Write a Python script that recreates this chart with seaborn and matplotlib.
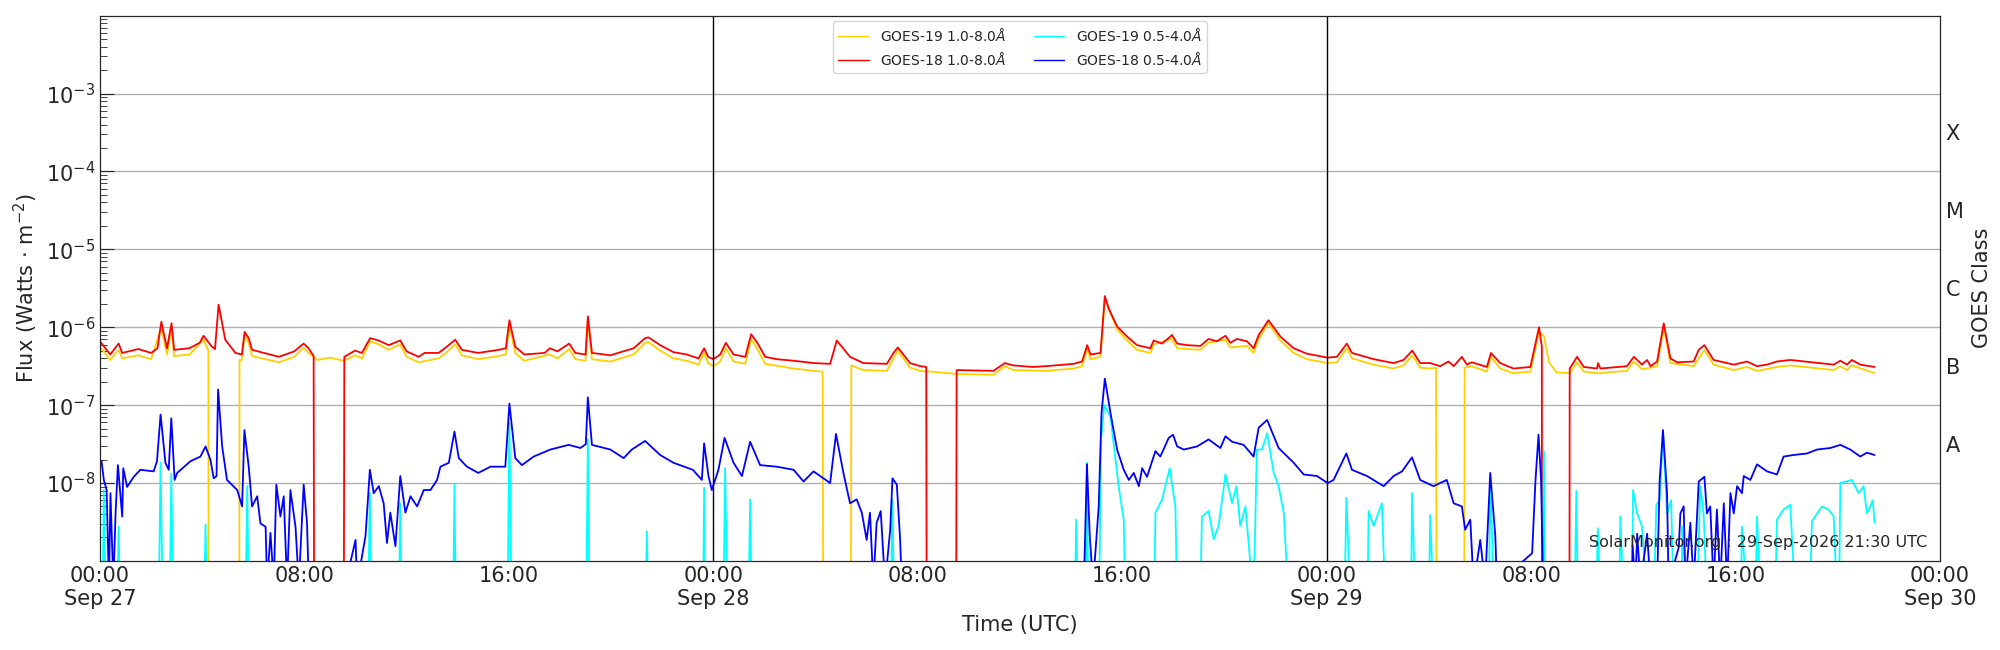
import matplotlib
matplotlib.use("Agg")
import matplotlib.pyplot as plt
import matplotlib.ticker as mticker
import numpy as np
import pandas as pd
import seaborn as sns

# times in hours since 2026-09-27 00:00 UTC, flux as log10(W m^-2)
g18_long = [
    (0, -6.18), (0.4, -6.35), (0.73, -6.21), (0.87, -6.33), (1.5, -6.28), (2.0, -6.33), (2.25, -6.27),
    (2.4, -5.93), (2.62, -6.27), (2.8, -5.95), (2.9, -6.29), (3.5, -6.27), (3.9, -6.2), (4.05, -6.11),
    (4.38, -6.25), (4.5, -6.28), (4.64, -5.71), (4.9, -6.16), (5.3, -6.33), (5.55, -6.35), (5.66, -6.06),
    (5.82, -6.14), (5.95, -6.29), (7.0, -6.38), (7.6, -6.31), (7.97, -6.21), (8.16, -6.27), (8.36, -6.37),
    (8.38, -10), (9.54, -10), (9.56, -6.38), (9.98, -6.3), (10.25, -6.33), (10.57, -6.14), (10.9, -6.17),
    (11.3, -6.23), (11.75, -6.17), (12.0, -6.31), (12.47, -6.38), (12.7, -6.33), (13.25, -6.33),
    (13.57, -6.25), (13.9, -6.16), (14.16, -6.29), (14.8, -6.33), (15.6, -6.29), (15.88, -6.27),
    (16.02, -5.91), (16.25, -6.25), (16.6, -6.35), (17.4, -6.33), (17.6, -6.27), (17.9, -6.31),
    (18.36, -6.21), (18.6, -6.33), (18.8, -6.34), (19.0, -6.35), (19.09, -5.86), (19.25, -6.33),
    (19.97, -6.36), (20.88, -6.27), (21.33, -6.14), (21.46, -6.13), (21.92, -6.23), (22.44, -6.32),
    (22.96, -6.35), (23.42, -6.4), (23.64, -6.27), (23.8, -6.38), (24.0, -6.41), (24.27, -6.35),
    (24.49, -6.2), (24.79, -6.35), (25.25, -6.38), (25.48, -6.09), (25.74, -6.21), (26.03, -6.38),
    (26.48, -6.41), (27.14, -6.43), (27.92, -6.46), (28.57, -6.47), (28.83, -6.17), (29.35, -6.38),
    (29.87, -6.46), (30.79, -6.47), (31.05, -6.33), (31.22, -6.26), (31.7, -6.46), (32.1, -6.5),
    (32.33, -6.51), (32.35, -10), (33.5, -10), (33.52, -6.55), (34.96, -6.56), (35.41, -6.46),
    (35.74, -6.49), (36.5, -6.51), (37.0, -6.5), (38.1, -6.47), (38.43, -6.44), (38.63, -6.23),
    (38.76, -6.35), (39.15, -6.33), (39.32, -5.6), (39.47, -5.76), (39.8, -5.99), (40.19, -6.12),
    (40.58, -6.23), (41.1, -6.27), (41.23, -6.17), (41.56, -6.21), (41.95, -6.1), (42.15, -6.21),
    (42.54, -6.23), (43.06, -6.24), (43.38, -6.15), (43.7, -6.18), (44.04, -6.11), (44.23, -6.2),
    (44.49, -6.15), (44.88, -6.18), (45.14, -6.27), (45.34, -6.1), (45.72, -5.91), (46.19, -6.12),
    (46.71, -6.27), (47.23, -6.34), (48.04, -6.39), (48.4, -6.38), (48.79, -6.21), (48.99, -6.33),
    (49.84, -6.41), (50.62, -6.46), (51.01, -6.42), (51.35, -6.3), (51.66, -6.46), (52.05, -6.46),
    (52.44, -6.5), (52.77, -6.44), (52.97, -6.5), (53.29, -6.38), (53.49, -6.48), (53.68, -6.45),
    (54.27, -6.51), (54.43, -6.33), (54.79, -6.46), (55.31, -6.53), (55.97, -6.51), (56.31, -6.0),
    (56.42, -6.25), (56.43, -10), (57.5, -10), (57.51, -6.53), (57.8, -6.38), (58.06, -6.51),
    (58.58, -6.53), (58.62, -6.46), (58.71, -6.53), (59.75, -6.5), (60.02, -6.38), (60.34, -6.48),
    (60.54, -6.42), (60.67, -6.5), (60.93, -6.44), (61.19, -5.95), (61.45, -6.4), (61.71, -6.45),
    (62.36, -6.44), (62.56, -6.29), (62.78, -6.23), (63.14, -6.42), (63.93, -6.48), (64.45, -6.44),
    (64.84, -6.5), (65.23, -6.48), (65.62, -6.44), (66.14, -6.42), (67.84, -6.48), (68.1, -6.43),
    (68.36, -6.48), (68.55, -6.42), (68.88, -6.48), (69.44, -6.51),
]

g19_long = [
    (0, -6.25), (0.4, -6.42), (0.73, -6.29), (0.87, -6.4), (1.5, -6.36), (2.0, -6.41), (2.4, -6.0),
    (2.62, -6.35), (2.8, -6.02), (2.9, -6.37), (3.5, -6.35), (4.05, -6.16), (4.24, -6.3), (4.25, -10),
    (5.45, -10), (5.46, -6.42), (5.55, -6.42), (5.66, -6.1), (5.82, -6.2), (5.95, -6.37), (7.0, -6.45),
    (7.6, -6.38), (7.97, -6.26), (8.16, -6.33), (8.5, -6.42), (9.0, -6.39), (9.56, -6.43), (9.98, -6.36),
    (10.25, -6.4), (10.57, -6.18), (10.9, -6.22), (11.3, -6.29), (11.75, -6.22), (12.0, -6.38),
    (12.47, -6.45), (13.25, -6.4), (13.57, -6.32), (13.9, -6.22), (14.16, -6.36), (14.8, -6.41),
    (15.6, -6.37), (15.88, -6.35), (16.02, -5.97), (16.25, -6.33), (16.6, -6.43), (17.6, -6.35),
    (17.9, -6.4), (18.36, -6.28), (18.6, -6.41), (19.0, -6.43), (19.09, -5.92), (19.25, -6.41),
    (19.97, -6.44), (20.88, -6.35), (21.33, -6.2), (21.46, -6.19), (21.92, -6.3), (22.44, -6.4),
    (22.96, -6.43), (23.42, -6.48), (23.64, -6.33), (23.8, -6.46), (24.0, -6.5), (24.27, -6.44),
    (24.49, -6.27), (24.79, -6.44), (25.25, -6.47), (25.48, -6.15), (25.74, -6.29), (26.03, -6.47),
    (27.14, -6.53), (27.92, -6.56), (28.28, -6.57), (28.3, -10), (29.38, -10), (29.4, -6.49),
    (29.87, -6.55), (30.79, -6.56), (31.05, -6.4), (31.22, -6.3), (31.7, -6.52), (32.1, -6.56),
    (32.9, -6.58), (33.52, -6.6), (34.96, -6.61), (35.41, -6.5), (35.74, -6.55), (37.0, -6.56),
    (38.1, -6.53), (38.43, -6.5), (38.63, -6.28), (38.76, -6.41), (39.15, -6.38), (39.32, -5.63),
    (39.8, -6.03), (40.19, -6.17), (40.58, -6.29), (41.1, -6.33), (41.23, -6.22), (41.95, -6.15),
    (42.15, -6.27), (43.06, -6.29), (43.38, -6.2), (44.04, -6.16), (44.23, -6.26), (44.88, -6.24),
    (45.14, -6.33), (45.34, -6.15), (45.72, -5.95), (46.19, -6.17), (46.71, -6.33), (47.23, -6.41),
    (48.04, -6.46), (48.4, -6.45), (48.79, -6.27), (48.99, -6.4), (49.84, -6.48), (50.62, -6.53),
    (51.01, -6.49), (51.35, -6.36), (51.66, -6.52), (52.05, -6.53), (52.28, -6.52), (52.3, -10),
    (53.38, -10), (53.4, -6.52), (53.68, -6.5), (54.27, -6.57), (54.43, -6.38), (54.79, -6.53),
    (55.31, -6.59), (55.97, -6.57), (56.31, -6.06), (56.5, -6.11), (56.7, -6.45), (57.0, -6.58),
    (57.5, -6.59), (57.8, -6.45), (58.06, -6.57), (58.58, -6.59), (59.75, -6.56), (60.02, -6.44),
    (60.34, -6.54), (60.93, -6.5), (61.19, -6.0), (61.45, -6.46), (62.36, -6.5), (62.78, -6.29),
    (63.14, -6.48), (63.93, -6.55), (64.45, -6.51), (64.84, -6.56), (65.62, -6.51), (66.14, -6.49),
    (67.84, -6.55), (68.1, -6.5), (68.36, -6.55), (68.55, -6.49), (69.44, -6.59),
]

g18_short = [
    (0.06, -7.72), (0.15, -7.96), (0.26, -8.09), (0.35, -9.3), (0.41, -8.13), (0.52, -9.3), (0.61, -8.38),
    (0.7, -7.77), (0.87, -8.43), (0.91, -7.81), (1.06, -8.05), (1.32, -7.92), (1.58, -7.83), (2.1, -7.85),
    (2.23, -7.72), (2.37, -7.12), (2.56, -7.74), (2.69, -7.83), (2.79, -7.17), (2.92, -7.96), (3.02, -7.87),
    (3.54, -7.72), (3.93, -7.66), (4.13, -7.53), (4.32, -7.7), (4.45, -7.94), (4.56, -7.91), (4.62, -6.8),
    (4.78, -7.53), (4.97, -7.96), (5.37, -8.09), (5.56, -8.3), (5.65, -7.32), (5.82, -7.79), (5.95, -8.3),
    (6.15, -8.17), (6.28, -8.52), (6.48, -8.56), (6.54, -9.3), (6.67, -8.64), (6.8, -9.3), (6.9, -8.02),
    (7.06, -8.43), (7.19, -8.17), (7.32, -9.3), (7.45, -8.09), (7.65, -8.56), (7.78, -9.3), (7.97, -8.02),
    (8.1, -8.51), (8.17, -9.3), (9.6, -9.3), (10.0, -8.73), (10.06, -9.3), (10.39, -8.68), (10.56, -7.83),
    (10.71, -8.13), (10.91, -8.04), (11.1, -8.26), (11.23, -8.77), (11.36, -8.38), (11.56, -8.81),
    (11.75, -7.91), (11.95, -8.38), (12.15, -8.17), (12.41, -8.3), (12.67, -8.09), (12.93, -8.09),
    (13.19, -7.96), (13.32, -7.79), (13.65, -7.74), (13.87, -7.34), (14.04, -7.68), (14.36, -7.79),
    (14.8, -7.87), (15.28, -7.79), (15.86, -7.79), (16.02, -6.98), (16.25, -7.68), (16.51, -7.77),
    (16.97, -7.66), (17.62, -7.57), (18.34, -7.51), (18.8, -7.55), (19.01, -7.5), (19.09, -6.9),
    (19.25, -7.51), (19.97, -7.57), (20.49, -7.68), (20.81, -7.57), (21.33, -7.46), (21.92, -7.64),
    (22.44, -7.74), (23.2, -7.83), (23.55, -7.96), (23.64, -7.49), (23.81, -7.91), (23.94, -8.09),
    (24.2, -7.83), (24.44, -7.42), (24.79, -7.74), (25.12, -7.91), (25.44, -7.47), (25.83, -7.77),
    (26.48, -7.79), (27.14, -7.83), (27.53, -7.98), (27.92, -7.85), (28.57, -8.0), (28.8, -7.37),
    (29.09, -7.87), (29.35, -8.26), (29.61, -8.21), (29.81, -8.38), (30.0, -8.73), (30.13, -8.38),
    (30.26, -9.3), (30.39, -8.51), (30.55, -8.36), (30.72, -9.3), (30.92, -8.6), (31.01, -7.94),
    (31.18, -8.02), (31.31, -8.73), (31.37, -9.3), (38.5, -9.3), (38.62, -7.76), (38.73, -8.68),
    (38.86, -9.3), (39.08, -8.3), (39.19, -7.1), (39.32, -6.66), (39.54, -7.1), (39.8, -7.57),
    (40.06, -7.83), (40.26, -7.96), (40.45, -7.87), (40.65, -8.04), (40.78, -7.81), (40.97, -7.92),
    (41.3, -7.59), (41.49, -7.66), (41.82, -7.42), (41.99, -7.38), (42.15, -7.53), (42.41, -7.57),
    (42.93, -7.53), (43.38, -7.44), (43.84, -7.55), (44.04, -7.4), (44.3, -7.47), (44.75, -7.51),
    (45.14, -7.66), (45.34, -7.29), (45.67, -7.19), (46.12, -7.55), (46.71, -7.74), (47.1, -7.89),
    (47.62, -7.91), (48.04, -8.0), (48.27, -7.96), (48.77, -7.62), (48.99, -7.83), (49.58, -7.91),
    (50.23, -8.04), (50.62, -7.91), (50.95, -7.85), (51.34, -7.67), (51.66, -7.96), (52.18, -8.04),
    (52.7, -7.96), (52.97, -8.26), (53.29, -8.3), (53.42, -8.6), (53.62, -8.47), (53.75, -9.3),
    (54.01, -8.73), (54.2, -9.3), (54.4, -7.87), (54.6, -8.68), (54.66, -9.3), (56.04, -8.9),
    (56.17, -7.97), (56.29, -7.38), (56.39, -7.96), (56.47, -9.3), (59.95, -9.3), (59.97, -8.8),
    (60.08, -9.3), (60.15, -8.65), (60.28, -9.3), (60.54, -8.65), (60.67, -9.3), (60.93, -9.3),
    (61.03, -7.97), (61.16, -7.32), (61.32, -8.13), (61.38, -9.3), (61.78, -8.82), (61.84, -8.39),
    (61.97, -8.3), (62.04, -9.3), (62.23, -8.51), (62.36, -9.3), (62.56, -7.98), (62.78, -7.92),
    (62.88, -8.39), (63.01, -8.3), (63.14, -9.3), (63.27, -8.34), (63.4, -9.3), (63.54, -8.26),
    (63.67, -9.3), (63.8, -8.13), (63.93, -8.39), (64.06, -8.04), (64.25, -8.13), (64.32, -7.91),
    (64.58, -7.96), (64.84, -7.76), (65.23, -7.85), (65.62, -7.89), (65.88, -7.66), (66.27, -7.64),
    (66.8, -7.62), (67.19, -7.57), (67.71, -7.55), (68.1, -7.51), (68.49, -7.57), (68.88, -7.66),
    (69.14, -7.61), (69.44, -7.64),
]

g19_short = [
    (0, -9.5), (0.1, -9.5), (0.15, -8.09), (0.22, -9.5), (0.68, -9.5), (0.73, -8.56), (0.78, -9.5),
    (2.3, -9.5), (2.37, -7.74), (2.45, -9.5), (2.73, -9.5), (2.79, -7.88), (2.86, -9.5), (4.08, -9.5),
    (4.13, -8.53), (4.18, -9.5), (5.7, -9.5), (5.76, -8.04), (5.82, -9.5), (10.5, -9.5), (10.56, -8.13),
    (10.62, -9.5), (11.7, -9.5), (11.75, -8.26), (11.8, -9.5), (13.82, -9.5), (13.87, -8.02),
    (13.92, -9.5), (15.95, -9.5), (16.02, -7.23), (16.1, -9.5), (19.03, -9.5), (19.09, -7.44),
    (19.15, -9.5), (21.35, -9.5), (21.4, -8.62), (21.45, -9.5), (23.6, -9.5), (23.64, -8.06),
    (23.68, -9.5), (24.4, -9.5), (24.46, -7.81), (24.55, -9.5), (25.38, -9.5), (25.44, -8.21),
    (25.5, -9.5), (30.95, -9.5), (31.01, -8.21), (31.07, -9.5), (38.15, -9.5), (38.2, -8.47),
    (38.25, -9.5), (38.57, -9.5), (38.62, -7.74), (38.67, -9.5), (39.1, -9.5), (39.17, -7.44),
    (39.3, -7.0), (39.54, -7.15), (39.86, -8.04), (40.06, -8.47), (40.12, -9.5), (41.25, -9.5),
    (41.3, -8.38), (41.56, -8.21), (41.86, -7.81), (42.08, -8.3), (42.15, -9.5), (43.05, -9.5),
    (43.12, -8.43), (43.38, -8.36), (43.58, -8.72), (43.77, -8.55), (44.04, -7.89), (44.3, -8.26),
    (44.47, -8.04), (44.62, -8.55), (44.82, -8.3), (45.14, -9.5), (45.27, -7.57), (45.47, -7.57),
    (45.67, -7.36), (45.93, -7.87), (46.12, -8.04), (46.32, -8.38), (46.51, -9.5), (48.7, -9.5),
    (48.77, -8.19), (48.93, -9.5), (49.6, -9.5), (49.64, -8.36), (49.84, -8.55), (50.16, -8.26),
    (50.3, -9.5), (51.3, -9.5), (51.34, -8.13), (51.47, -9.5), (52.0, -9.5), (52.05, -8.41),
    (52.18, -9.5), (54.35, -9.5), (54.4, -7.96), (54.56, -9.5), (56.45, -9.5), (56.5, -7.59),
    (56.56, -9.5), (57.7, -9.5), (57.77, -8.1), (57.83, -9.5), (58.55, -9.5), (58.61, -8.58),
    (58.71, -9.5), (59.45, -9.5), (59.49, -8.43), (59.62, -9.5), (59.95, -9.5), (59.99, -8.09),
    (60.15, -8.39), (60.34, -8.56), (60.54, -9.5), (60.8, -9.5), (60.9, -8.28), (61.03, -8.22),
    (61.16, -7.36), (61.32, -8.39), (61.48, -8.22), (61.58, -9.5), (61.9, -9.5), (61.91, -8.56),
    (62.1, -9.5), (62.5, -9.5), (62.62, -8.04), (62.75, -8.39), (62.88, -9.5), (64.2, -9.5),
    (64.25, -8.56), (64.45, -9.5), (64.78, -9.5), (64.84, -8.43), (64.97, -9.5), (65.55, -9.5),
    (65.62, -8.47), (65.88, -8.34), (66.14, -8.28), (66.34, -9.5), (66.9, -9.5), (66.99, -8.49),
    (67.38, -8.3), (67.64, -8.34), (67.84, -8.43), (67.97, -9.5), (68.05, -9.5), (68.1, -8.0),
    (68.55, -7.96), (68.82, -8.13), (69.01, -8.04), (69.14, -8.39), (69.27, -8.3), (69.37, -8.22),
    (69.44, -8.51),
]

x_ticks = [0, 8, 16, 24, 32, 40, 48, 56, 64, 72]
x_tick_labels = ["00:00\nSep 27", "08:00", "16:00", "00:00\nSep 28", "08:00", "16:00",
                 "00:00\nSep 29", "08:00", "16:00", "00:00\nSep 30"]
goes_classes = ["A", "B", "C", "M", "X"]
class_levels = [-7.5, -6.5, -5.5, -4.5, -3.5]

series = [
    ("GOES-19 1.0-8.0$\\AA$", g19_long, "#FFD000"),
    ("GOES-18 1.0-8.0$\\AA$", g18_long, "#FF0000"),
    ("GOES-19 0.5-4.0$\\AA$", g19_short, "#00FFFF"),
    ("GOES-18 0.5-4.0$\\AA$", g18_short, "#0000FF"),
]

sns.set_style("white")
plt.rcParams["font.family"] = ["DejaVu Sans"]

fig = plt.figure(figsize=(20, 6.5), dpi=100)
ax = fig.add_axes([0.05, 0.137, 0.92, 0.839])
ax.set_yscale("log")

for label, pts, color in series:
    df = pd.DataFrame(pts, columns=["hour", "logflux"])
    df["flux"] = 10.0 ** df["logflux"]
    sns.lineplot(data=df, x="hour", y="flux", ax=ax, color=color, lw=1.3,
                 label=label, estimator=None, sort=False)

ax.set_xlim(0, 72)
ax.set_ylim(1e-9, 1e-2)
ax.set_yticks([10.0 ** k for k in range(-8, -2)])
ax.yaxis.set_major_formatter(mticker.LogFormatterMathtext())
ax.yaxis.set_minor_locator(mticker.LogLocator(base=10, subs=np.arange(2, 10)))
ax.yaxis.set_minor_formatter(mticker.NullFormatter())
ax.set_xticks(x_ticks)
ax.set_xticklabels(x_tick_labels)
ax.tick_params(axis="both", which="both", direction="in", right=True, labelsize=15)
ax.tick_params(axis="y", which="major", length=10)
ax.tick_params(axis="y", which="minor", length=5)
ax.tick_params(axis="x", length=6)
ax.grid(axis="y", which="major", color="#b0b0b0", lw=1)
for day in (24, 48):
    ax.axvline(day, color="black", lw=1)
for sp in ax.spines.values():
    sp.set_color("black")
ax.set_xlabel("Time (UTC)", fontsize=15)
ax.set_ylabel("Flux (Watts $\\cdot$ m$^{-2}$)", fontsize=15)

ax2 = ax.twinx()
ax2.set_yscale("log")
ax2.set_ylim(1e-9, 1e-2)
ax2.set_yticks([10.0 ** v for v in class_levels])
ax2.set_yticklabels(goes_classes)
ax2.yaxis.set_minor_locator(mticker.NullLocator())
ax2.tick_params(axis="y", length=0, labelsize=15, pad=4)
ax2.set_ylabel("GOES Class", fontsize=15, labelpad=6)

leg = ax.legend(loc="upper center", ncol=2, fontsize=10, frameon=True, handlelength=2.2,
                columnspacing=2.0, borderaxespad=0.4)
for line in leg.get_lines():
    line.set_linewidth(1.0)
ax.text(0.993, 0.02, "SolarMonitor.org : 29-Sep-2026 21:30 UTC", transform=ax.transAxes,
        ha="right", va="bottom", fontsize=11.5)

fig.savefig("out.png", dpi=100)
